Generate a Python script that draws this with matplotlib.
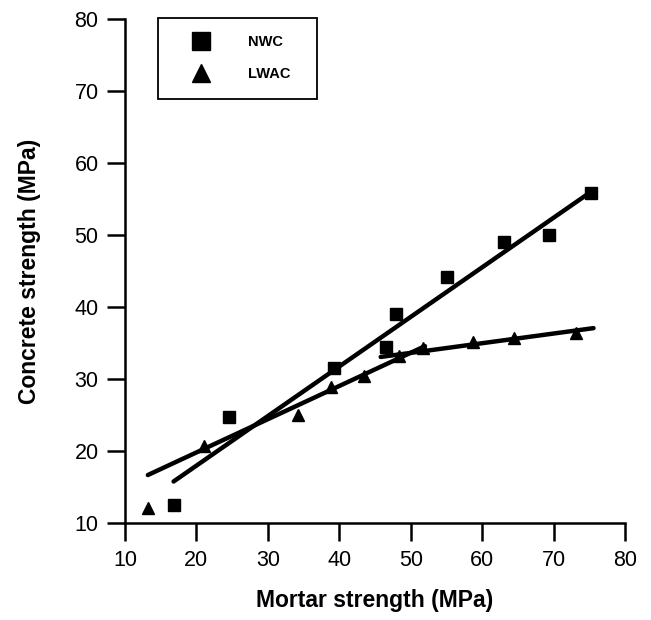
import numpy as np
import matplotlib
matplotlib.use("Agg")
import matplotlib.pyplot as plt

plt.rcParams['font.family'] = ['Liberation Sans', 'DejaVu Sans']

# NWC measurements (mortar strength, concrete strength) in MPa
nwc_mortar = [16.8, 24.6, 39.2, 46.6, 47.9, 55.1, 63.0, 69.4, 75.2]
nwc_concrete = [12.6, 24.8, 31.6, 34.5, 39.1, 44.2, 49.1, 50.1, 55.9]

# LWAC measurements
lwac_mortar = [13.2, 21.0, 34.2, 38.9, 43.4, 48.3, 51.7, 58.7, 64.4, 73.1]
lwac_concrete = [12.1, 20.7, 25.1, 28.9, 30.5, 33.2, 34.3, 35.2, 35.7, 36.4]

# fitted lines (end points)
nwc_fit_x = [16.8, 74.9]
nwc_fit_y = [15.8, 55.8]
lwac_fit1_x = [13.2, 52.0]
lwac_fit1_y = [16.7, 34.6]
lwac_fit2_x = [45.8, 75.6]
lwac_fit2_y = [33.1, 37.1]

x_ticks = [10, 20, 30, 40, 50, 60, 70, 80]
y_ticks = [10, 20, 30, 40, 50, 60, 70, 80]

fig = plt.figure(figsize=(6.51, 6.2), dpi=100)
ax = fig.add_axes([0.192, 0.156, 0.768, 0.813])

lw_fit = 3.2
ax.plot(nwc_fit_x, nwc_fit_y, color='black', lw=lw_fit, solid_capstyle='round')
ax.plot(lwac_fit1_x, lwac_fit1_y, color='black', lw=lw_fit, solid_capstyle='round')
ax.plot(lwac_fit2_x, lwac_fit2_y, color='black', lw=lw_fit, solid_capstyle='round')

ax.plot(nwc_mortar, nwc_concrete, ls='none', marker='s', ms=9, color='black', label='NWC')
ax.plot(lwac_mortar, lwac_concrete, ls='none', marker='^', ms=8.5, color='black', label='LWAC')

ax.set_xlim(10, 80)
ax.set_ylim(10, 80)
ax.set_xticks(x_ticks)
ax.set_yticks(y_ticks)

for side in ['top', 'right']:
    ax.spines[side].set_visible(False)
for side in ['left', 'bottom']:
    ax.spines[side].set_linewidth(1.8)

ax.tick_params(direction='out', length=13, width=1.8, labelsize=15.5, pad=6)

ax.set_xlabel('Mortar strength (MPa)', fontsize=16.5, fontweight='bold', labelpad=13)
ax.set_ylabel('Concrete strength (MPa)', fontsize=16.5, fontweight='bold', labelpad=24)

leg = ax.legend(loc='upper left', bbox_to_anchor=(0.066, 1.003), fancybox=False,
                edgecolor='black', framealpha=1, markerscale=1.45, handlelength=3.5,
                handletextpad=1.5, labelspacing=1.25, borderpad=1.2, borderaxespad=0,
                prop={'weight': 'bold', 'size': 10.5})
leg.get_frame().set_linewidth(1.3)
# a bit of room after the labels, like in the original box
for t in leg.get_texts():
    t.set_text(t.get_text() + '  ')

fig.savefig('out.png', dpi=100)
